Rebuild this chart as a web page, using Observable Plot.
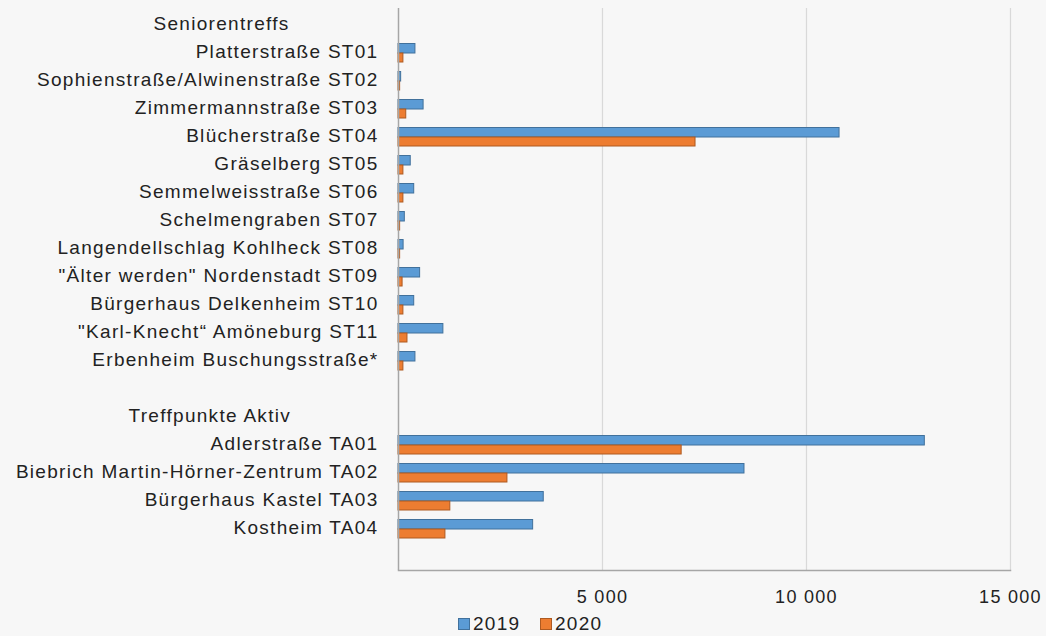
<!DOCTYPE html>
<html>
<head>
<meta charset="utf-8">
<script src="https://cdn.jsdelivr.net/npm/d3@7"></script>
<script src="https://cdn.jsdelivr.net/npm/@observablehq/plot@0.6"></script>
<style>
  html, body { margin: 0; padding: 0; background: #f7f7f7; }
  body { width: 1046px; height: 636px; overflow: hidden; font-family: "Liberation Sans", Arial, sans-serif; }
  #legend { position: relative; height: 24px; font-size: 19px; letter-spacing: 1.3px; color: #222; }
  .item { position: absolute; top: 1px; display: flex; align-items: center; }
  .sw { width: 12px; height: 12px; box-sizing: border-box; margin-right: 3px; }
</style>
</head>
<body>
<div id="chart"></div>
<div id="legend"></div>
<script>
// Row order (top to bottom); headers and blanks have no bars
const categories = [
  "Seniorentreffs",
  "Platterstraße ST01",
  "Sophienstraße/Alwinenstraße ST02",
  "Zimmermannstraße ST03",
  "Blücherstraße ST04",
  "Gräselberg ST05",
  "Semmelweisstraße ST06",
  "Schelmengraben ST07",
  "Langendellschlag Kohlheck ST08",
  "\"Älter werden\" Nordenstadt ST09",
  "Bürgerhaus Delkenheim ST10",
  "\"Karl-Knecht“ Amöneburg ST11",
  "Erbenheim Buschungsstraße*",
  "blank1",
  "Treffpunkte Aktiv",
  "Adlerstraße TA01",
  "Biebrich Martin-Hörner-Zentrum TA02",
  "Bürgerhaus Kastel TA03",
  "Kostheim TA04",
  "blank2"
];
const headers = ["Seniorentreffs", "Treffpunkte Aktiv"];
const blanks = ["blank1", "blank2"];

// Bar categories and values
const barCategories = [
  "Platterstraße ST01",
  "Sophienstraße/Alwinenstraße ST02",
  "Zimmermannstraße ST03",
  "Blücherstraße ST04",
  "Gräselberg ST05",
  "Semmelweisstraße ST06",
  "Schelmengraben ST07",
  "Langendellschlag Kohlheck ST08",
  "\"Älter werden\" Nordenstadt ST09",
  "Bürgerhaus Delkenheim ST10",
  "\"Karl-Knecht“ Amöneburg ST11",
  "Erbenheim Buschungsstraße*",
  "Adlerstraße TA01",
  "Biebrich Martin-Hörner-Zentrum TA02",
  "Bürgerhaus Kastel TA03",
  "Kostheim TA04"
];
const values2019 = [415, 65, 615, 10810, 300, 385, 155, 125, 530, 385, 1100, 415, 12900, 8480, 3560, 3300];
const values2020 = [120, 40, 190, 7280, 120, 120, 40, 40, 100, 120, 220, 120, 6940, 2670, 1270, 1150];

const seriesNames = ["2019", "2020"];
const seriesFill = ["#5b9bd5", "#ed7d31"];
const seriesStroke = ["#41719c", "#ae5a21"];

const xTicks = [5000, 10000, 15000];
const fmt = d => d3.format(",")(d).replace(/,/g, " ");

const rows2019 = barCategories.map((c, i) => ({ cat: c, value: values2019[i] }));
const rows2020 = barCategories.map((c, i) => ({ cat: c, value: values2020[i] }));

const chart = Plot.plot({
  width: 1046,
  height: 612,
  marginLeft: 398,
  marginRight: 36,
  marginTop: 8,
  marginBottom: 42,
  style: { background: "#f7f7f7", fontFamily: "'Liberation Sans', Arial, sans-serif", color: "#222", letterSpacing: "1.3px" },
  x: { domain: [0, 15000] },
  y: { domain: categories, padding: 0 },
  marks: [
    Plot.gridX(xTicks, { stroke: "#d9d9d9", strokeOpacity: 1, strokeWidth: 1.2 }),
    Plot.barX(rows2019, { x: "value", y: "cat", fill: seriesFill[0], stroke: seriesStroke[0], strokeWidth: 1, insetTop: 6.5, insetBottom: 12 }),
    Plot.barX(rows2020, { x: "value", y: "cat", fill: seriesFill[1], stroke: seriesStroke[1], strokeWidth: 1, insetTop: 16, insetBottom: 3 }),
    Plot.ruleX([0], { stroke: "#a6a6a6", strokeWidth: 1.5 }),
    Plot.frame({ anchor: "bottom", stroke: "#a6a6a6", strokeWidth: 1.5 }),
    Plot.axisX({ ticks: xTicks, tickFormat: fmt, tickSize: 0, tickPadding: 20, fontSize: 18, label: null }),
    Plot.axisY({ tickSize: 0, tickPadding: 20, fontSize: 19, label: null,
      tickFormat: d => (headers.includes(d) || blanks.includes(d)) ? "" : d }),
    Plot.text([headers[0]], { y: d => d, frameAnchor: "left", dx: -245, textAnchor: "start", fontSize: 19, fill: "#222" }),
    Plot.text([headers[1]], { y: d => d, frameAnchor: "left", dx: -270, textAnchor: "start", fontSize: 19, fill: "#222" })
  ]
});
document.getElementById("chart").appendChild(chart);

// Legend
const legend = document.getElementById("legend");
const legendLeft = [458, 540];
seriesNames.forEach((name, i) => {
  const item = document.createElement("div");
  item.className = "item";
  item.style.left = legendLeft[i] + "px";
  const sw = document.createElement("div");
  sw.className = "sw";
  sw.style.background = seriesFill[i];
  sw.style.border = "1px solid " + seriesStroke[i];
  const label = document.createElement("span");
  label.textContent = name;
  item.appendChild(sw);
  item.appendChild(label);
  legend.appendChild(item);
});
</script>
</body>
</html>
